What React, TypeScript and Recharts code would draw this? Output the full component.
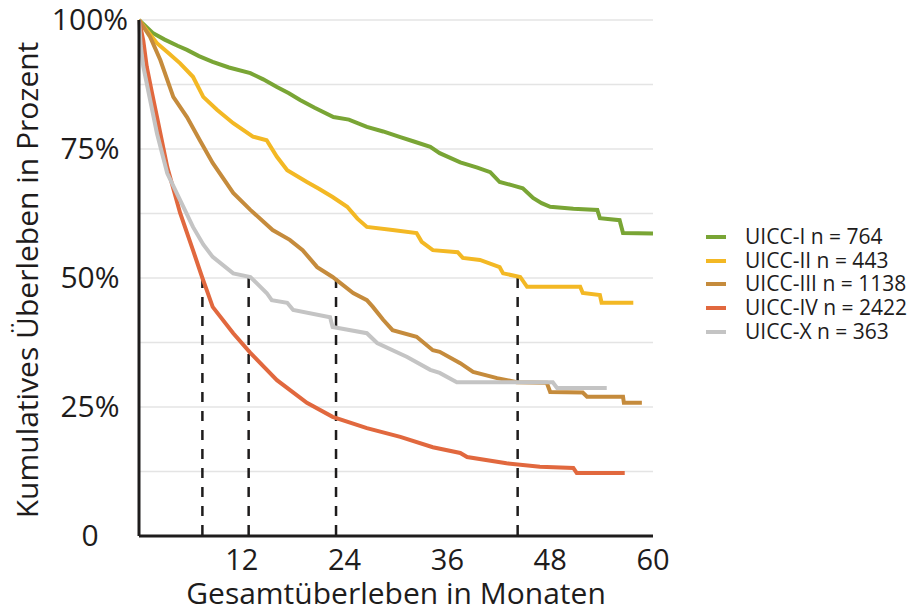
import { CartesianGrid, Line, LineChart, ReferenceLine, XAxis, YAxis } from "recharts";

// Kaplan-Meier survival by UICC stage, [month, percent surviving]
const uicc1 = [
  [0, 100], [1.6, 97.5], [3, 96.2], [4.5, 95], [5.6, 94.2], [7, 93], [8.6, 91.9],
  [10.5, 90.8], [13, 89.7], [14.5, 88.5], [16.1, 87], [17.5, 85.8], [18.8, 84.5],
  [20.5, 83], [22.7, 81.2], [24.5, 80.7], [26.6, 79.3], [28.5, 78.4], [30.5, 77.3],
  [32, 76.5], [34, 75.4], [35.1, 74.2], [37.5, 72.4], [39.5, 71.4], [41, 70.5],
  [42.1, 68.6], [43.5, 68], [44.8, 67.4], [46, 65.5], [47, 64.5], [48, 63.8],
  [50.7, 63.4], [53.5, 63.2], [53.8, 61.6], [56.1, 61.2], [56.5, 58.7], [60, 58.6],
];
const uicc2 = [
  [0, 100], [1, 97.8], [2.1, 95.5], [3.5, 93.5], [4.8, 91.6], [6.3, 89], [7.5, 85.1],
  [9.1, 82.6], [11, 80], [13.3, 77.4], [14.9, 76.7], [16.1, 73.5], [17.3, 70.9],
  [19.6, 68.6], [21, 67.3], [22.6, 65.7], [24.3, 63.8], [25.5, 61.5], [26.6, 59.9],
  [29.6, 59.3], [32.4, 58.7], [33, 57], [34.3, 55.4], [37.2, 55], [37.8, 53.9],
  [39.8, 53.5], [42.1, 52.1], [42.5, 50.9], [44.5, 50.2], [45.3, 48.3], [51.5, 48.3],
  [51.8, 47.1], [53.8, 46.7], [54, 45.2], [57.7, 45.2],
];
const uicc3 = [
  [0, 100], [1.3, 96.7], [2.5, 92.2], [4, 85.1], [5.6, 81.2], [7.1, 76.7], [8.6, 72.3],
  [11, 66.5], [13, 63.2], [15.6, 59.3], [17.6, 57.4], [19.1, 55.4], [20.8, 52.1],
  [22.6, 50.2], [25, 47.1], [26.6, 45.7], [27.3, 44.4], [28.5, 41.9], [29.6, 39.9],
  [32.4, 38.6], [34.3, 36], [35.1, 35.7], [37.5, 33.5], [39, 31.8], [41.8, 30.6],
  [44.1, 29.8], [47.6, 29.7], [48, 27.9], [51.8, 27.8], [52.3, 27], [56.5, 27],
  [56.6, 25.8], [58.7, 25.8],
];
const uicc4 = [
  [0, 100], [0.5, 96], [0.9, 91], [1.5, 86], [2.1, 81.2], [3.3, 71.5], [4.8, 62.6],
  [6.3, 55.4], [7.4, 50], [7.9, 47.7], [8.6, 44.4], [11, 39.3], [13, 35.5],
  [16.1, 30.2], [19.6, 25.8], [22.6, 23.1], [26.6, 20.9], [30.5, 19.2], [34.3, 17.2],
  [37.5, 16.1], [38.3, 15.3], [42.9, 14.1], [46.8, 13.4], [50.7, 13.2], [51.1, 12.2],
  [56.7, 12.2],
];
const uiccX = [
  [0, 100], [0.2, 95], [0.5, 91], [1.3, 84.5], [2.1, 78], [3.3, 70.3], [4.8, 65.1],
  [6.3, 59.9], [7.5, 56.5], [8.6, 54.1], [11, 50.9], [13, 50.2], [14.9, 47.1],
  [15.5, 45.7], [17.3, 45.2], [18, 43.8], [22.3, 42.4], [22.6, 40.5], [26.6, 39.3],
  [27.8, 37.4], [31.3, 34.7], [34, 32.2], [35.1, 31.6], [37.1, 29.8], [48.3, 29.8],
  [48.8, 28.7], [54.6, 28.7],
];

const names = [
  "UICC-I n = 764",
  "UICC-II n = 443",
  "UICC-III n = 1138",
  "UICC-IV n = 2422",
  "UICC-X n = 363",
];
const colors = ["#79a535", "#f3b824", "#c58b3c", "#e1683e", "#c4c4c4"];
const curves = [uicc1, uicc2, uicc3, uicc4, uiccX];

// median survival (months) where curves cross 50 %
const medians = [7.4, 12.8, 23.0, 44.2];

const xTicks = [0, 12, 24, 36, 48, 60];
const yTicks = [0, 12.5, 25, 37.5, 50, 62.5, 75, 87.5, 100];

const series = names.map((name, i) => ({
  name,
  color: colors[i],
  data: curves[i].map(([m, p]) => ({ m, p })),
}));

const W = 913;
const H = 614;
const INK = "#1e1c1c";

function YTick({ y, payload }: any) {
  const v = payload.value as number;
  if (v % 25 !== 0) return <g />;
  return (
    <text x={90} y={y} dy={10} textAnchor="middle" fontSize={30} fill={INK}>
      {v === 0 ? "0" : `${v}%`}
    </text>
  );
}

export default function App() {
  return (
    <div
      style={{
        position: "absolute",
        left: 0,
        top: 0,
        width: W,
        height: H,
        background: "#fff",
        fontFamily: "'Open Sans', sans-serif",
      }}
    >
      <LineChart width={W} height={H} margin={{ top: 20, right: 260, bottom: 0, left: 0 }}>
        <CartesianGrid vertical={false} stroke="#e4e4e4" strokeWidth={1.5} />
        <XAxis
          type="number"
          dataKey="m"
          domain={[0, 60]}
          ticks={xTicks}
          height={78}
          tickLine={false}
          tickMargin={7}
          axisLine={{ stroke: INK, strokeWidth: 3 }}
          tick={{ fontSize: 29, fill: INK }}
          tickFormatter={(v: number) => (v === 0 ? "" : String(v))}
          label={{
            value: "Gesamtüberleben in Monaten",
            position: "insideBottom",
            offset: 10,
            fontSize: 30,
            fill: INK,
          }}
        />
        <YAxis
          type="number"
          domain={[0, 100]}
          ticks={yTicks}
          width={139}
          tickLine={false}
          axisLine={{ stroke: INK, strokeWidth: 3 }}
          tick={<YTick />}
          label={{
            content: () => (
              <text
                x={38}
                y={280}
                transform="rotate(-90 38 280)"
                textAnchor="middle"
                fontSize={30}
                fill={INK}
              >
                Kumulatives Überleben in Prozent
              </text>
            ),
          }}
        />
        {medians.map((m) => (
          <ReferenceLine
            key={m}
            segment={[
              { x: m, y: 50 },
              { x: m, y: 0 },
            ]}
            stroke={INK}
            strokeWidth={2.5}
            strokeDasharray="10 9"
          />
        ))}
        {series.map((s) => (
          <Line
            key={s.name}
            name={s.name}
            data={s.data}
            dataKey="p"
            type="linear"
            stroke={s.color}
            strokeWidth={4}
            dot={false}
            isAnimationActive={false}
          />
        ))}
      </LineChart>
      <div
        style={{
          position: "absolute",
          left: 706,
          top: 225,
          fontSize: 21,
          lineHeight: "23.7px",
          color: INK,
          whiteSpace: "nowrap",
        }}
      >
        {series.map((s) => (
          <div key={s.name} style={{ display: "flex", alignItems: "center" }}>
            <span style={{ width: 20, height: 4, background: s.color, marginRight: 19 }} />
            <span>{s.name}</span>
          </div>
        ))}
      </div>
    </div>
  );
}
